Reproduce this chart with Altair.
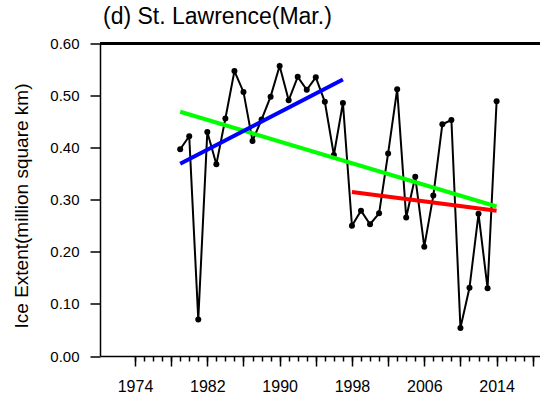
import altair as alt
import pandas as pd

# March ice extent, Gulf of St. Lawrence (million km^2)
years = list(range(1979, 2015))
extent = [0.397, 0.422, 0.070, 0.430, 0.368, 0.456, 0.547, 0.507, 0.413, 0.454,
          0.498, 0.557, 0.491, 0.536, 0.511, 0.535, 0.488, 0.386, 0.486, 0.250,
          0.279, 0.253, 0.274, 0.389, 0.512, 0.266, 0.344, 0.210, 0.308, 0.445,
          0.453, 0.054, 0.131, 0.273, 0.130, 0.489]

# linear trends: full period, early period, late period
trend_names = ["all", "early", "late"]
trend_start_year = [1979, 1979, 1998]
trend_end_year = [2014, 1997, 2014]
trend_start_val = [0.469, 0.369, 0.315]
trend_end_val = [0.287, 0.531, 0.279]
trend_colors = ["#00ff00", "#0000ff", "#ff0000"]

major_years = list(range(1974, 2019, 4))
minor_years = list(range(1974, 2019, 1))
y_ticks = [0.0, 0.1, 0.2, 0.3, 0.4, 0.5, 0.6]

series = pd.DataFrame({"year": years, "extent": extent})
trend_rows = []
for n, y0, y1, v0, v1 in zip(trend_names, trend_start_year, trend_end_year,
                             trend_start_val, trend_end_val):
    trend_rows.append({"trend": n, "year": y0, "extent": v0})
    trend_rows.append({"trend": n, "year": y1, "extent": v1})
trends = pd.DataFrame(trend_rows)

FONT = "Liberation Sans"
W, H = 440, 312.5

x_scale = alt.Scale(domain=[1970.13, 2018.8], zero=False, nice=False)
y_scale = alt.Scale(domain=[0, 0.6], zero=False, nice=False)

y_axis = alt.Axis(values=y_ticks, format=".2f", tickSize=10, labelPadding=11,
                  grid=False, title="Ice Extent(million square km)",
                  titleFontSize=19, titleFont=FONT, titleFontWeight="normal",
                  titlePadding=18, titleY=162, labelFontSize=15)

major_axis = alt.Axis(orient="bottom", values=major_years, tickSize=10, grid=False,
                      title=None,
                      labelExpr="datum.value % 8 == 6 ? toString(datum.value) : ''",
                      labelFontSize=16, labelPadding=12, labelOverlap=False,
                      labelFlush=False)
minor_axis = alt.Axis(orient="bottom", values=minor_years, tickSize=5, grid=False,
                      title=None, labels=False, domain=False)

line = alt.Chart(series).mark_line(color="black", strokeWidth=2).encode(
    x=alt.X("year:Q", scale=x_scale, axis=major_axis),
    y=alt.Y("extent:Q", scale=y_scale, axis=y_axis),
)

points = alt.Chart(series).mark_circle(color="black", size=36, opacity=1).encode(
    x=alt.X("year:Q", scale=x_scale, axis=minor_axis),
    y=alt.Y("extent:Q", scale=y_scale, axis=y_axis),
)

trend_lines = alt.Chart(trends).mark_line(strokeWidth=4).encode(
    x=alt.X("year:Q", scale=x_scale, axis=None),
    y=alt.Y("extent:Q", scale=y_scale, axis=y_axis),
    color=alt.Color("trend:N", scale=alt.Scale(domain=trend_names, range=trend_colors),
                    legend=None),
    order=alt.Order("year:Q"),
)

top_border = alt.Chart(series).mark_rule(color="black", strokeWidth=1.5).encode(
    x=alt.value(0), x2=alt.value(W), y=alt.value(0)
)

chart = alt.layer(line, points, trend_lines, top_border).resolve_axis(
    x="independent"
).properties(
    width=W, height=H,
    title=alt.TitleParams("(d) St. Lawrence(Mar.)", anchor="start", fontSize=23,
                          font=FONT, fontWeight="normal", color="black",
                          frame="group", dx=3, offset=8),
    autosize=alt.AutoSizeParams(type="none"),
    padding={"left": 100, "top": 43.5, "right": 0, "bottom": 43},
).configure_view(strokeWidth=0).configure_axis(
    domainColor="black", tickColor="black", domainWidth=1.5, tickWidth=1.5,
    labelColor="black", titleColor="black", labelFont=FONT, titleFont=FONT,
)

chart.save("out.html", embed_options={"renderer": "svg", "actions": False})
